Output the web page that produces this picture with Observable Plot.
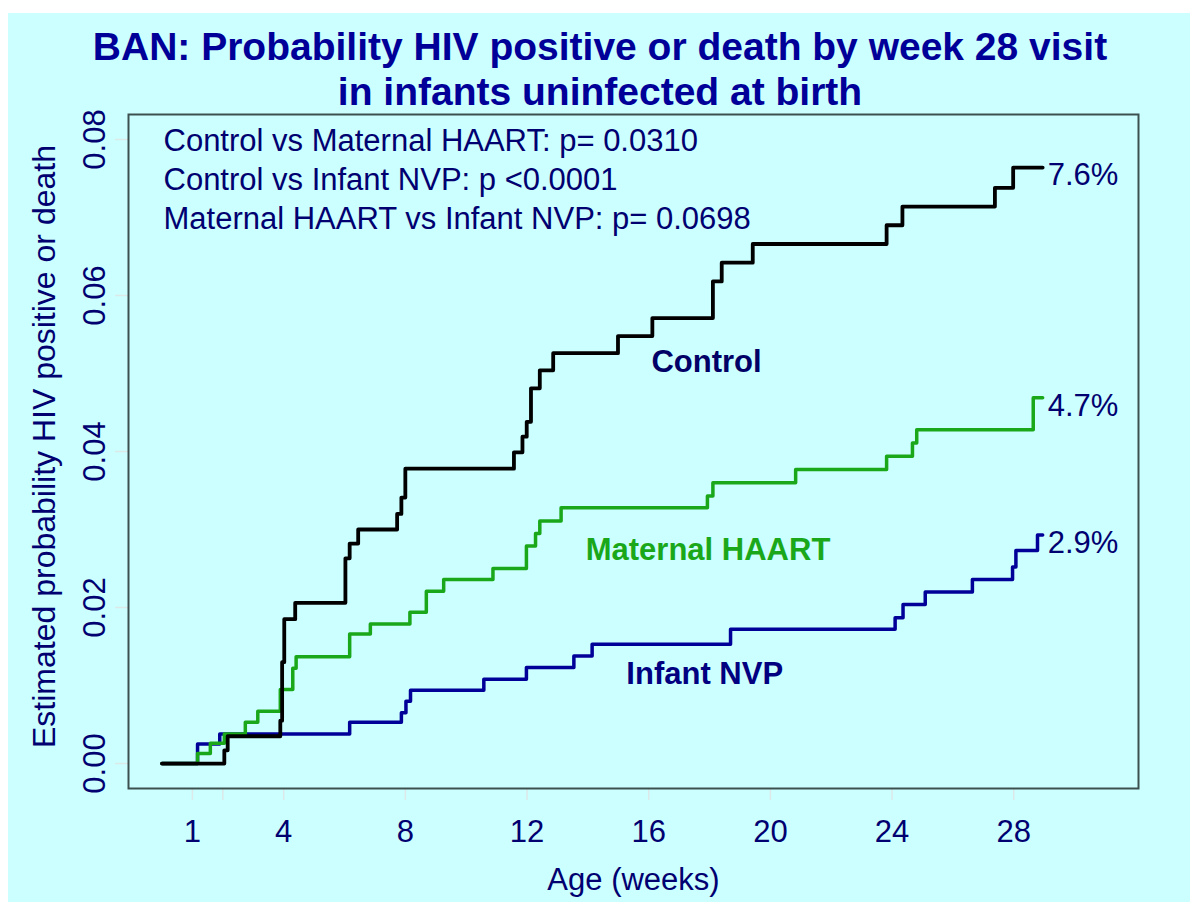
<!DOCTYPE html>
<html><head><meta charset="utf-8">
<script src="https://cdn.jsdelivr.net/npm/d3@7"></script>
<script src="https://cdn.jsdelivr.net/npm/@observablehq/plot@0.6"></script>
<style>
body{margin:0;background:#fff;}
#page{position:relative;width:1200px;height:906px;background:#fff;overflow:hidden;font-family:Arial,"Liberation Sans",sans-serif;}
#panel{position:absolute;left:8px;top:13px;width:1182px;height:889px;background:#ccffff;}
#title{position:absolute;left:0;top:24px;width:1200px;text-align:center;font-weight:bold;font-size:39px;line-height:45px;color:#000099;}
#chart{position:absolute;left:0;top:105px;}
</style></head>
<body>
<div id="page">
  <div id="panel"></div>
  <div id="title">BAN: Probability HIV positive or death by week 28 visit<br>in infants uninfected at birth</div>
  <div id="chart"></div>
</div>
<script>
// ---- data ----
const seriesNames = ["Control", "Maternal HAART", "Infant NVP"];

const controlWeeks = [0, 2.05, 2.16, 3.89, 3.95, 4.02, 4.38, 6.03, 6.17, 6.45, 7.73, 7.87, 8.00, 11.57, 11.85, 11.99, 12.13, 12.42, 12.86, 14.99, 16.12, 18.11, 18.40, 19.42, 23.82, 24.34, 27.38, 27.98, 28.95];
const controlProb  = [0, 0.0017, 0.0035, 0.0055, 0.0130, 0.0185, 0.0206, 0.0263, 0.0282, 0.0300, 0.0320, 0.0341, 0.0378, 0.0399, 0.0419, 0.0438, 0.0481, 0.0504, 0.0526, 0.0548, 0.0571, 0.0618, 0.0642, 0.0666, 0.0690, 0.0714, 0.0738, 0.0764, 0.0764];

const haartWeeks = [0, 1.17, 1.59, 2.05, 2.74, 3.15, 3.89, 4.30, 4.41, 6.17, 6.85, 8.15, 8.69, 9.26, 10.88, 11.98, 12.28, 12.42, 13.12, 17.93, 18.11, 20.83, 23.82, 24.67, 24.81, 28.64, 28.95];
const haartProb  = [0, 0.0013, 0.0026, 0.0038, 0.0053, 0.0067, 0.0095, 0.0122, 0.0137, 0.0166, 0.0179, 0.0194, 0.0221, 0.0236, 0.0250, 0.0279, 0.0295, 0.0311, 0.0328, 0.0343, 0.0360, 0.0377, 0.0394, 0.0411, 0.0428, 0.0469, 0.0469];

const nvpWeeks = [0, 1.17, 1.90, 6.17, 7.87, 8.02, 8.17, 10.58, 11.98, 13.54, 14.14, 18.69, 24.10, 24.36, 25.09, 26.64, 27.96, 28.07, 28.78, 28.95];
const nvpProb  = [0, 0.0025, 0.0038, 0.0053, 0.0065, 0.0080, 0.0094, 0.0108, 0.0123, 0.0138, 0.0153, 0.0172, 0.0187, 0.0204, 0.0220, 0.0236, 0.0252, 0.0273, 0.0293, 0.0293];

const xTicks = [1, 2, 4, 8, 12, 16, 20, 24, 28];
const xTickLabels = ["1", "", "4", "8", "12", "16", "20", "24", "28"];
const yTicks = [0, 0.02, 0.04, 0.06, 0.08];
const yTickLabels = ["0.00", "0.02", "0.04", "0.06", "0.08"];

const pValueLines = [
  "Control vs Maternal HAART: p= 0.0310",
  "Control vs Infant NVP: p <0.0001",
  "Maternal HAART vs Infant NVP: p= 0.0698"
];
const xLabel = "Age (weeks)";
const yLabel = "Estimated probability HIV positive or death";

// label anchors (data units)
const labelWeek = [17.9, 17.95, 17.84];
const labelProb = [0.0514, 0.02735, 0.01145];

// ---- styles ----
const navy = "#000070";
const colors = {"Control": "#000000", "Maternal HAART": "#1aa81a", "Infant NVP": "#000099"};
const labelColors = {"Control": "#000066", "Maternal HAART": "#1aa81a", "Infant NVP": "#000080"};
const tickColor = "#dde8e8";
const fs = 31;

// ---- build tables ----
const toRows = (name, ws, ps) => ws.map((w, i) => ({group: name, week: w, p: ps[i]}));
const series = {
  "Control": toRows("Control", controlWeeks, controlProb),
  "Maternal HAART": toRows("Maternal HAART", haartWeeks, haartProb),
  "Infant NVP": toRows("Infant NVP", nvpWeeks, nvpProb)
};
const endRows = seriesNames.map(n => series[n][series[n].length - 1]);
const labelRows = seriesNames.map((n, i) => ({group: n, week: labelWeek[i], p: labelProb[i]}));
const yTickRows = yTicks.map((v, i) => ({v, label: yTickLabels[i]}));

const chart = Plot.plot({
  width: 1200,
  height: 801,
  marginTop: 9,
  marginBottom: 118,
  marginLeft: 128,
  marginRight: 62,
  style: {background: "transparent", fontFamily: 'Arial, "Liberation Sans", sans-serif', overflow: "visible"},
  x: {domain: [-1.1, 32.1]},
  y: {domain: [-0.0032, 0.0832]},
  marks: [
    Plot.axisX(xTicks, {tickSize: 12, stroke: tickColor, strokeWidth: 1.5, fill: navy, fontSize: fs, tickPadding: 19,
      tickFormat: d => xTickLabels[xTicks.indexOf(d)], label: null}),
    Plot.axisY(yTicks, {tickSize: 13, stroke: tickColor, strokeWidth: 1.5, tickFormat: () => "", label: null}),
    Plot.text(yTickRows, {y: "v", text: "label", frameAnchor: "left", dx: -33, rotate: -90,
      textAnchor: "middle", lineAnchor: "middle", fontSize: fs, fill: navy}),
    Plot.text([yLabel], {frameAnchor: "left", dx: -84, dy: -5, rotate: -90, textAnchor: "middle", lineAnchor: "middle", fontSize: 32, fill: navy}),
    Plot.text([xLabel], {frameAnchor: "bottom", dy: 92, textAnchor: "middle", lineAnchor: "middle", fontSize: fs, fill: navy}),
    Plot.line(series["Infant NVP"], {x: "week", y: "p", curve: "step-after", stroke: colors["Infant NVP"], strokeWidth: 3.5}),
    Plot.line(series["Maternal HAART"], {x: "week", y: "p", curve: "step-after", stroke: colors["Maternal HAART"], strokeWidth: 3.5}),
    Plot.line(series["Control"], {x: "week", y: "p", curve: "step-after", stroke: colors["Control"], strokeWidth: 3.8}),
    Plot.frame({stroke: "#3c5050", strokeWidth: 2}),
    Plot.text([pValueLines.join("\n")], {frameAnchor: "top-left", dx: 35, dy: 9, textAnchor: "start", lineAnchor: "top",
      lineHeight: 1.26, fontSize: fs, fill: navy}),
    Plot.text(endRows, {x: "week", y: "p", text: d => (d.p * 100).toFixed(1) + "%", dx: 5, dy: 8,
      textAnchor: "start", lineAnchor: "middle", fontSize: fs, fill: navy}),
    Plot.text(labelRows, {x: "week", y: "p", text: "group", fill: d => labelColors[d.group],
      textAnchor: "middle", lineAnchor: "middle", fontSize: fs, fontWeight: "bold"})
  ]
});
document.getElementById("chart").appendChild(chart);
</script>
</body></html>
